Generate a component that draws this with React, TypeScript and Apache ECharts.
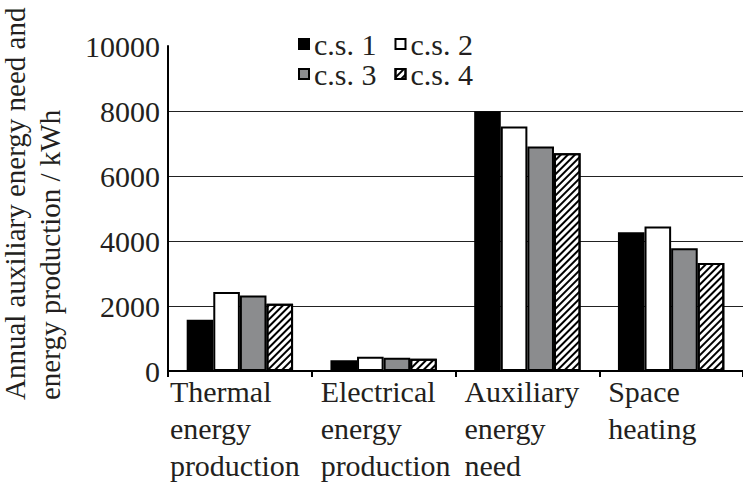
import React, { useEffect, useRef } from "react";
import * as echarts from "echarts";

const categories = [
  "Thermal\nenergy\nproduction",
  "Electrical\nenergy\nproduction",
  "Auxiliary\nenergy\nneed",
  "Space\nheating",
];
const seriesNames = ["c.s. 1", "c.s. 2", "c.s. 3", "c.s. 4"];
const cs1 = [1580, 330, 7990, 4270];
const cs2 = [2430, 440, 7520, 4450];
const cs3 = [2320, 410, 6910, 3780];
const cs4 = [2070, 380, 6700, 3320];
const yTicks = { min: 0, max: 10000, interval: 2000 };
const yAxisTitle = "Annual auxiliary energy need and\nenergy production / kWh";

const FONT = "Liberation Serif";
const TEXT = "#231f20";

export default function App() {
  const ref = useRef<HTMLDivElement>(null);
  useEffect(() => {
    if (!ref.current) return;
    const chart = echarts.init(ref.current, undefined, { renderer: "svg" });
    const border = { borderColor: "#000", borderWidth: 2 };
    const mk = (name: string, data: number[], style: any) => ({
      name,
      type: "bar",
      data,
      barGap: "0%",
      barCategoryGap: "26%",
      itemStyle: { ...border, ...style },
    });
    const legendBase = {
      orient: "horizontal",
      icon: "rect",
      itemWidth: 10,
      itemHeight: 10,
      itemGap: 18,
      textStyle: { fontFamily: FONT, fontSize: 30, color: TEXT },
      selectedMode: false,
    };
    const labelStyle = { fontFamily: FONT, fontSize: 30, lineHeight: 37, color: TEXT };
    chart.setOption({
      animation: false,
      backgroundColor: "#fff",
      grid: { left: 168, top: 46, width: 578, height: 325, containLabel: false },
      legend: [
        { ...legendBase, left: 293, top: 24, data: [seriesNames[0], seriesNames[1]] },
        { ...legendBase, left: 293, top: 54, data: [seriesNames[2], seriesNames[3]] },
      ],
      xAxis: {
        type: "category",
        data: categories,
        axisLine: { lineStyle: { color: "#000", width: 2 } },
        axisTick: { show: true, length: 6, lineStyle: { color: "#000", width: 2 } },
        axisLabel: {
          interval: 0,
          align: "left",
          margin: 2,
          padding: [0, 0, 0, -63],
          ...labelStyle,
          formatter: (v: string, i: number) =>
            i === 0
              ? v
                  .split("\n")
                  .map((l) => `{t|${l}}`)
                  .join("\n")
              : v,
          rich: { t: { ...labelStyle, padding: [0, 0, 0, -7] } },
        },
      },
      yAxis: {
        type: "value",
        min: yTicks.min,
        max: yTicks.max,
        interval: yTicks.interval,
        axisLine: { show: true, lineStyle: { color: "#000", width: 2 } },
        axisTick: { show: false },
        axisLabel: {
          margin: 8,
          fontFamily: FONT,
          fontSize: 30,
          color: TEXT,
          formatter: (v: number) => String(v),
        },
        splitLine: {
          show: true,
          showMinLine: false,
          showMaxLine: false,
          lineStyle: { color: "#222", width: 1 },
        },
      },
      graphic: [
        {
          type: "text",
          x: -3,
          y: 400,
          rotation: Math.PI / 2,
          style: {
            text: yAxisTitle,
            fontFamily: FONT,
            fontSize: 29,
            lineHeight: 35,
            fill: TEXT,
            textAlign: "left",
            textVerticalAlign: "top",
          },
        },
      ],
      series: [
        mk(seriesNames[0], cs1, { color: "#000" }),
        mk(seriesNames[1], cs2, { color: "#fff" }),
        mk(seriesNames[2], cs3, { color: "#8b8c8e" }),
        mk(seriesNames[3], cs4, {
          color: "#fff",
          decal: {
            symbol: "rect",
            symbolSize: 1,
            color: "#000",
            dashArrayX: [1, 0],
            dashArrayY: [1.5, 2.5],
            rotation: -Math.PI / 4,
          },
        }),
      ],
    });
    return () => chart.dispose();
  }, []);
  return (
    <div
      ref={ref}
      style={{ position: "fixed", left: 0, top: 0, width: 743, height: 484 }}
    />
  );
}
